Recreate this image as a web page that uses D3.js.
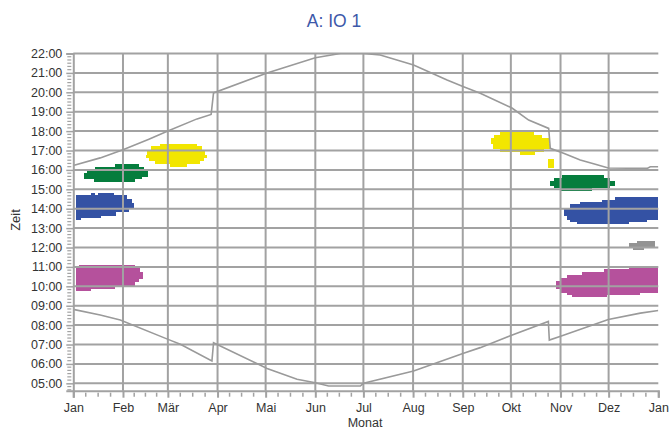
<!DOCTYPE html>
<html><head><meta charset="utf-8">
<script src="https://cdn.jsdelivr.net/npm/d3@7/dist/d3.min.js"></script>
<style>
html,body{margin:0;padding:0;background:#fff;}
svg text{font-family:"Liberation Sans",Arial,sans-serif;}
</style></head>
<body>
<svg id="c" width="669" height="428"></svg>
<script>
// ---------- data ----------
const title = "A: IO 1";
const xTitle = "Monat";
const yTitle = "Zeit";
const monthLabels = ["Jan","Feb","Mär","Apr","Mai","Jun","Jul","Aug","Sep","Okt","Nov","Dez","Jan"];
const hourTicks = [5,6,7,8,9,10,11,12,13,14,15,16,17,18,19,20,21,22];

// sunset / sunrise: [day of year, hour]
const sunset = [[0,16.23],[16.8,16.62],[31,17.04],[46.8,17.57],[59,18.0],[77.2,18.63],[86.0,18.86],[87.5,19.97],
  [120.9,21.0],[151,21.78],[166.6,22.0],[181.1,22.0],[191.5,21.92],[212.3,21.41],[233.2,20.63],[243.5,20.29],
  [253.9,19.95],[273.7,19.19],[284.1,18.57],[296.6,18.14],[297.6,17.11],[305.9,16.86],[316.3,16.51],[325.7,16.29],
  [333.8,16.10],[358,16.08],[360,16.16],[365,16.16]];
const sunrise = [[0,8.81],[16.8,8.52],[29.3,8.26],[59.9,7.24],[66.8,7.01],[86.5,6.15],[87.5,7.09],[120.9,5.77],
  [139.6,5.21],[151,5.03],[159.3,4.86],[179.1,4.86],[181.1,5.0],[212.3,5.63],[243.5,6.55],[253.9,6.84],
  [273.9,7.49],[296.4,8.19],[297,7.23],[304.5,7.44],[333.8,8.29],[353.8,8.62],[365,8.75]];

// activity blobs: rows [hour top, hour bottom, day start, day end]
const yellowLeft = [[17.36,17.22,53.8,77.2],[17.22,17.05,48.7,80.3],[17.05,16.79,46.0,81.9],[16.79,16.62,45.5,83.4],
  [16.62,16.45,47.0,81.3],[16.45,16.28,51.2,79.2],[16.28,16.16,60.5,70.9]];
const greenLeft = [[16.28,16.16,25.8,41.2],[16.16,15.98,13.7,44.3],[15.98,15.85,8.5,46.6],[15.85,15.64,6.4,46.6],
  [15.64,15.51,6.4,42.9],[15.51,15.37,12.7,38.7]];
const blueLeft = [[14.82,14.70,11.2,13.7],[14.82,14.70,15.2,25.6],[14.70,14.51,1.9,33.5],[14.51,14.30,1.9,36.6],
  [14.30,13.96,1.9,37.6],[13.96,13.82,1.9,34.5],[13.82,13.61,1.9,26.6],[13.61,13.51,1.9,17.5],[13.51,13.41,1.9,5.0]];
const magentaLeft = [[11.12,10.95,3.7,38.7],[10.95,10.73,1.9,41.8],[10.73,10.39,1.9,43.2],[10.39,10.21,1.9,41.2],
  [10.21,10.04,1.9,38.7],[10.04,9.87,1.9,26.2],[9.87,9.75,1.9,11.2]];
const yellowRight = [[17.96,17.82,266.4,287.2],[17.82,17.65,262.2,292.4],[17.65,17.31,260.8,296.6],[17.31,17.10,261.9,297.6],
  [17.10,16.93,266.4,293.4],[16.93,16.76,278.5,288.3],[16.54,16.11,296.2,299.7]];
const greenRight = [[15.76,15.59,304.9,330.9],[15.59,15.42,300.1,335.1],[15.42,15.16,297.6,338.2],[15.16,15.08,300.1,335.1],
  [15.08,14.90,303.4,323.6]];
const blueRight = [[14.61,14.47,338.2,365],[14.47,14.34,329.9,365],[14.34,14.22,316.3,365],[14.22,14.05,309.7,365],
  [14.05,13.61,305.9,365],[13.61,13.41,308.0,365],[13.41,13.30,309.7,357.9],[13.30,13.19,314.3,346.5]];
const grayRight = [[12.32,12.21,351.7,363.1],[12.21,11.98,346.5,363.1],[11.98,11.85,349.2,355.8]];
const magentaRight = [[11.01,10.87,346.5,365],[10.87,10.73,330.9,365],[10.73,10.59,317.4,365],[10.59,10.44,308.0,365],
  [10.44,10.26,303.9,365],[10.26,9.84,301.4,365],[9.84,9.66,303.9,365],[9.66,9.56,308.0,353.8],[9.56,9.46,311.2,333.0]];

const blobs = [
  {rows: yellowLeft, color: "#f2e600"}, {rows: greenLeft, color: "#057d3d"},
  {rows: blueLeft, color: "#3452a4"}, {rows: magentaLeft, color: "#b5519c"},
  {rows: yellowRight, color: "#f2e600"}, {rows: greenRight, color: "#057d3d"},
  {rows: blueRight, color: "#3452a4"}, {rows: grayRight, color: "#939393"},
  {rows: magentaRight, color: "#b5519c"}
];

// ---------- chart ----------
(function(){
const svg = d3.select("#c");
const pL = 73.3, pR = 658.3, pT = 53.5, pB = 390.7;
const t0 = Date.UTC(2023,0,1), t1 = Date.UTC(2024,0,1);
const dayToDate = d => new Date(t0 + d*86400000);
const x = d3.scaleUtc().domain([new Date(t0), new Date(t1)]).range([pL, pR]);
const y = d3.scaleLinear().domain([4.62, 22]).range([pB, pT]);
const gridColor = "#a2a2a2";
const fontFam = '"Liberation Sans",Arial,sans-serif';

svg.append("defs").append("clipPath").attr("id","clip")
  .append("rect").attr("x",pL).attr("y",pT).attr("width",pR-pL).attr("height",pB-pT);

// blobs
const gB = svg.append("g").attr("clip-path","url(#clip)");
blobs.forEach(b => {
  gB.selectAll(null).data(b.rows).enter().append("rect")
    .attr("x", r => x(dayToDate(r[2])))
    .attr("width", r => x(dayToDate(r[3])) - x(dayToDate(r[2])))
    .attr("y", r => y(r[0]))
    .attr("height", r => y(r[1]) - y(r[0]))
    .attr("fill", b.color).attr("shape-rendering","crispEdges");
});

const monthDates = monthLabels.map((m,i) => new Date(Date.UTC(2023, i, 1)));

// grid
const gG = svg.append("g");
gG.selectAll(null).data(hourTicks).enter().append("line")
  .attr("x1", pL).attr("x2", pR).attr("y1", d => y(d)).attr("y2", d => y(d))
  .attr("stroke", gridColor).attr("stroke-width", 2);
gG.selectAll(null).data(monthDates.slice(1, 12)).enter().append("line")
  .attr("x1", d => x(d)).attr("x2", d => x(d)).attr("y1", pT).attr("y2", pB)
  .attr("stroke", gridColor).attr("stroke-width", 2);

// sun lines
const line = d3.line().x(p => x(dayToDate(p[0]))).y(p => y(p[1]));
[sunset, sunrise].forEach(s => {
  svg.append("path").datum(s).attr("d", line).attr("fill","none")
    .attr("stroke","#9a9a9a").attr("stroke-width",1.6).attr("clip-path","url(#clip)");
});

// x axis
const xAxis = d3.axisBottom(x).tickValues(monthDates).tickSize(7).tickPadding(5)
  .tickFormat((d,i) => monthLabels[i]);
const gx = svg.append("g").attr("transform", `translate(0,${pB})`).call(xAxis);
gx.select(".domain").attr("stroke", gridColor).attr("stroke-width", 2);
gx.selectAll(".tick line").attr("stroke", gridColor).attr("stroke-width", 2);
gx.selectAll(".tick text").attr("font-size", 12.5).attr("fill", "#333").attr("font-family", fontFam);
const minorX = [];
for (let i = 0; i < 12; i++) {
  const a = +monthDates[i], b = +monthDates[i+1];
  for (let k = 1; k < 4; k++) minorX.push(new Date(a + (b - a) * k / 4));
}
svg.append("g").selectAll(null).data(minorX).enter().append("line")
  .attr("x1", d => x(d)).attr("x2", d => x(d)).attr("y1", pB + 2).attr("y2", pB + 6)
  .attr("stroke", gridColor).attr("stroke-width", 1.5);

// y axis
const yAxis = d3.axisLeft(y).tickValues(hourTicks).tickSize(7).tickPadding(4)
  .tickFormat(h => String(h).padStart(2,"0") + ":00");
const gy = svg.append("g").attr("transform", `translate(${pL},0)`).call(yAxis);
gy.select(".domain").attr("stroke", gridColor).attr("stroke-width", 2);
gy.selectAll(".tick line").attr("stroke", gridColor).attr("stroke-width", 1.5);
gy.selectAll(".tick text").attr("font-size", 12.5).attr("fill", "#333").attr("font-family", fontFam);
const minorY = [];
for (let k = Math.ceil(4.62*6); k <= 22*6; k++) { if (k % 6 !== 0) minorY.push(k/6); }
svg.append("g").selectAll(null).data(minorY).enter().append("line")
  .attr("x1", pL - 6).attr("x2", pL - 2).attr("y1", d => y(d)).attr("y2", d => y(d))
  .attr("stroke", gridColor).attr("stroke-width", 1.2);

// titles
svg.append("text").attr("x", 334).attr("y", 27).attr("text-anchor","middle")
  .attr("font-size", 17.5).attr("fill", "#3d58a9").text(title);
svg.append("text").attr("x", 365).attr("y", 426.5).attr("text-anchor","middle")
  .attr("font-size", 12.5).attr("fill", "#333").text(xTitle);
svg.append("text").attr("transform","translate(20,220) rotate(-90)").attr("text-anchor","middle")
  .attr("font-size", 13).attr("fill", "#333").text(yTitle);
})();
</script>
</body></html>
